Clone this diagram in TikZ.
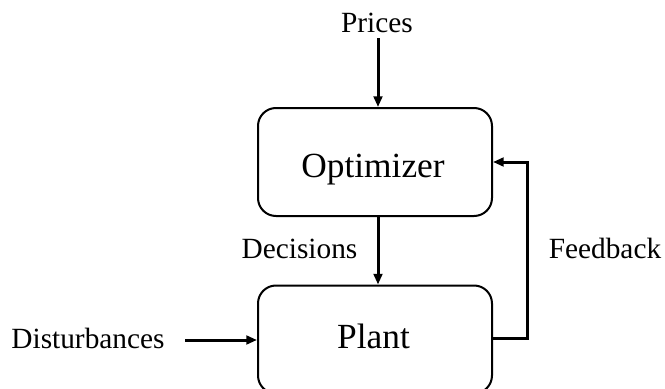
\documentclass[tikz,border=0pt]{standalone}
\usepackage{fontspec}
\setmainfont{Liberation Serif}
\usetikzlibrary{arrows.meta}
\begin{document}
\begin{tikzpicture}[x=0.75pt,y=-0.75pt,
  block/.style={draw,line width=1.5pt,rounded corners=13.5pt,minimum width=175.5pt,minimum height=81pt,inner sep=0pt},
  btext/.style={anchor=base,inner sep=0pt,font=\fontsize{26.5}{31}\selectfont},
  conn/.style={line width=2.25pt,-{Triangle[length=8pt,width=6.5pt]}},
  lbl/.style={anchor=base,inner sep=0pt,font=\fontsize{22}{26}\selectfont}]
  \useasboundingbox (0,0) rectangle (665,389);
  % blocks
  \node[block] (opt) at (375,162) {};
  \node[btext] (opttext) at (373,177) {Optimizer};
  \node[block] (plant) at (375,339.5) {};
  \node[btext] (planttext) at (373.5,348) {Plant};
  % labels
  \node[lbl] (prices) at (377,32) {Prices};
  \node[lbl] (dec) at (299.5,258) {Decisions};
  \node[lbl] (fb) at (605,258) {Feedback};
  \node[lbl] (dist) at (88,348) {Disturbances};
  % connectors
  \coordinate (pricesend) at (378,38);
  \coordinate (distend) at (185,340);
  \coordinate (fbcorner) at (527,162);
  \draw[conn] (pricesend) -- (opt.north -| pricesend);
  \draw[conn] (opt.south -| pricesend) -- (plant.north -| pricesend);
  \draw[conn] (distend) -- (plant.west |- distend);
  \draw[conn] (plant.east |- 0,338) -| (fbcorner) -- (opt.east |- fbcorner);
\end{tikzpicture}
\end{document}
